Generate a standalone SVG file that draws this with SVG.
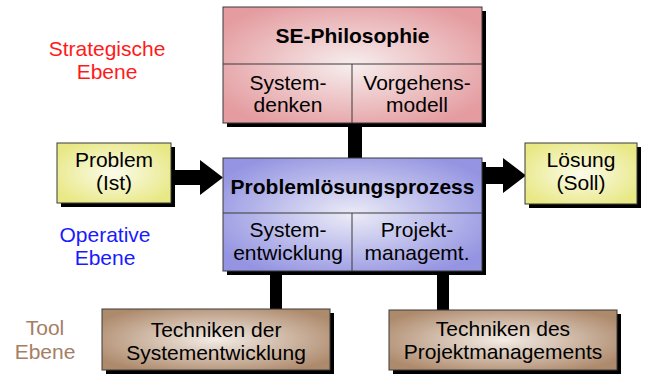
<svg xmlns="http://www.w3.org/2000/svg" width="647" height="374" viewBox="0 0 647 374">
<defs>
<radialGradient id="gPink" cx="0.5" cy="0.5" r="0.6"><stop offset="0" stop-color="#f7eeee"/><stop offset="1" stop-color="#e49ca0"/></radialGradient>
<radialGradient id="gBlue" cx="0.5" cy="0.5" r="0.6"><stop offset="0" stop-color="#ebebf7"/><stop offset="1" stop-color="#9494e2"/></radialGradient>
<radialGradient id="gYellow" cx="0.5" cy="0.5" r="0.6"><stop offset="0" stop-color="#fbfbeb"/><stop offset="1" stop-color="#e8e884"/></radialGradient>
<radialGradient id="gBrown" cx="0.5" cy="0.5" r="0.6"><stop offset="0" stop-color="#f3ece6"/><stop offset="1" stop-color="#ae8a6c"/></radialGradient>
</defs>
<style>
text{font-family:"Liberation Sans",Arial,sans-serif;font-size:21px;text-anchor:middle;fill:#000}
.b{font-weight:bold}
.sh{fill:#000}
.box{stroke:#3a3a3a;stroke-width:1}
.div{stroke:#3a3a3a;stroke-width:1;fill:none}
.bar{stroke:#000;fill:none}
</style>
<g id="connectors">
<line class="bar" x1="355" y1="120" x2="355" y2="160" stroke-width="14"/>
<line class="bar" x1="276" y1="270" x2="276" y2="310" stroke-width="12"/>
<line class="bar" x1="443" y1="270" x2="443" y2="311" stroke-width="12"/>
<polygon points="171,170 200,170 200,160 223,177.5 200,195 200,185 171,185" fill="#000"/>
<polygon points="482,167 503,167 503,158 526,175.5 503,193 503,184 482,184" fill="#000"/>
</g>
<g id="labels">
<text x="107" y="56" fill="#ff1a1a" style="fill:#ff1a1a">Strategische</text>
<text x="107" y="79" style="fill:#ff1a1a">Ebene</text>
<text x="105" y="242" style="fill:#1a1aff">Operative</text>
<text x="105" y="265" style="fill:#1a1aff">Ebene</text>
<text x="45" y="335" style="fill:#a57e64">Tool</text>
<text x="45" y="359" style="fill:#a57e64">Ebene</text>
</g>
<g id="se-philosophie">
<rect class="sh" x="227" y="11" width="259" height="116"/>
<rect class="box" x="223" y="7" width="259" height="116" fill="url(#gPink)"/>
<path class="div" d="M223 64H482M352 64V123"/>
<text class="b" x="352.5" y="43">SE-Philosophie</text>
<text x="288" y="90">System-</text>
<text x="288" y="112">denken</text>
<text x="417" y="90">Vorgehens-</text>
<text x="417" y="112">modell</text>
</g>
<g id="problemloesungsprozess">
<rect class="sh" x="227" y="162" width="259" height="113"/>
<rect class="box" x="223" y="158" width="259" height="113" fill="url(#gBlue)"/>
<path class="div" d="M223 213H482M352 213V271"/>
<text class="b" x="352.5" y="194">Problemlösungsprozess</text>
<text x="288" y="237">System-</text>
<text x="288" y="260">entwicklung</text>
<text x="417" y="237">Projekt-</text>
<text x="417" y="260">managemt.</text>
</g>
<g id="problem">
<rect class="sh" x="61" y="147" width="114" height="60"/>
<rect class="box" x="57" y="143" width="114" height="60" fill="url(#gYellow)"/>
<text x="114" y="167">Problem</text>
<text x="114" y="190">(Ist)</text>
</g>
<g id="loesung">
<rect class="sh" x="529" y="147" width="112" height="61"/>
<rect class="box" x="525" y="143" width="112" height="61" fill="url(#gYellow)"/>
<text x="581" y="167">Lösung</text>
<text x="581" y="190">(Soll)</text>
</g>
<g id="techniken-systementwicklung">
<rect class="sh" x="106" y="313" width="228" height="61"/>
<rect class="box" x="102" y="309" width="228" height="61" fill="url(#gBrown)"/>
<text x="216" y="337">Techniken der</text>
<text x="216" y="360">Systementwicklung</text>
</g>
<g id="techniken-projektmanagement">
<rect class="sh" x="393" y="314" width="228" height="60"/>
<rect class="box" x="389" y="310" width="228" height="60" fill="url(#gBrown)"/>
<text x="503" y="336">Techniken des</text>
<text x="503" y="359">Projektmanagements</text>
</g>
</svg>
